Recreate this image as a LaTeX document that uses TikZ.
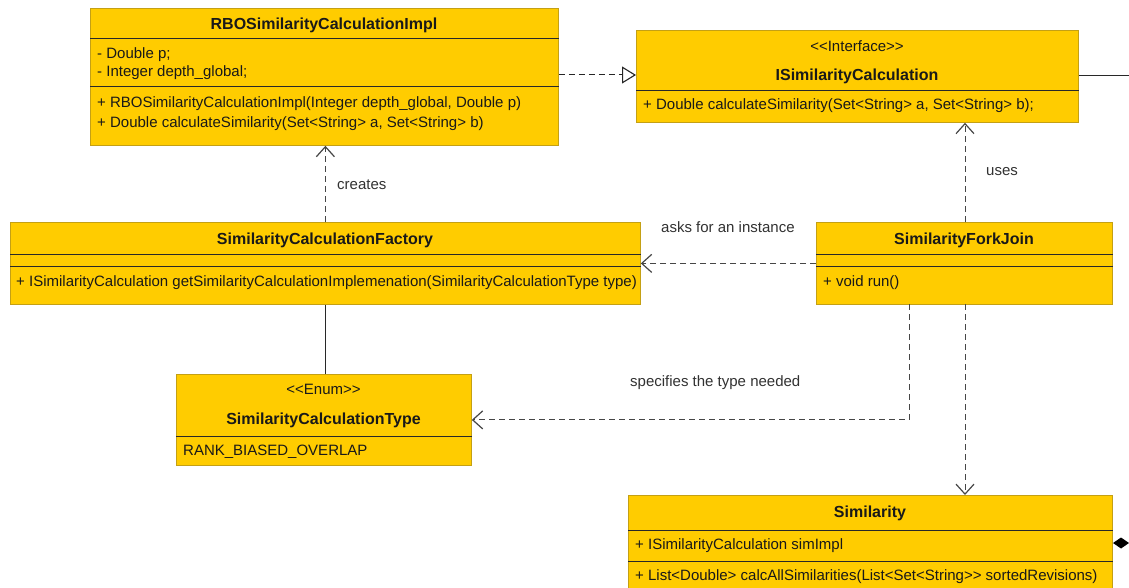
\documentclass[tikz,border=0pt]{standalone}
\usepackage{fontspec}
\setmainfont{Liberation Sans}
\usetikzlibrary{arrows.meta}
\definecolor{umlyellow}{RGB}{255,204,0}
\definecolor{boxedge}{RGB}{196,160,20}
\definecolor{sepcol}{RGB}{40,40,40}
\definecolor{txt}{RGB}{25,25,25}
\definecolor{lblcol}{RGB}{50,50,50}
\definecolor{dashcol}{RGB}{70,70,70}
\newcommand{\memfont}{\fontsize{15}{18}\selectfont}
\newcommand{\titfont}{\fontsize{16}{18}\selectfont\bfseries}
\tikzset{
  umlbox/.style={draw=boxedge, fill=umlyellow, line width=0.8pt, inner sep=0pt, anchor=north west},
  sepline/.style={draw=sepcol, line width=1pt},
  ttl/.style={font=\titfont, text=txt, inner sep=0pt},
  stereo/.style={font=\memfont, text=txt, inner sep=0pt},
  mem/.style={font=\memfont, anchor=west, inner sep=0pt, text=txt},
  lbl/.style={font=\memfont, anchor=west, inner sep=0pt, text=lblcol},
  dep/.style={draw=dashcol, dash pattern=on 6pt off 4pt, line width=1pt,
    -{Straight Barb[length=10pt,width=18pt,line width=1.2pt]}},
  realize/.style={draw=black!85, dash pattern=on 6pt off 4pt, line width=1pt,
    -{Triangle[open,length=14pt,width=17pt,line width=1.1pt]}},
  assoc/.style={draw=sepcol, line width=1pt},
}
\begin{document}
\begin{tikzpicture}[x=1pt,y=-1pt]
\clip (0,0) rectangle (1129,588);
\fill[white] (0,0) rectangle (1129,588);

% RBOSimilarityCalculationImpl
\node[umlbox, minimum width=468pt, minimum height=137pt] (rbo) at (90,8) {};
\node[ttl] (rboT) at (324,25) {RBOSimilarityCalculationImpl};
\draw[sepline] (rbo.west |- 0,39) -- (rbo.east |- 0,39);
\node[mem] (rboA1) at (97,55) {- Double p;};
\node[mem] (rboA2) at (97,73) {- Integer depth\_global;};
\draw[sepline] (rbo.west |- 0,87) -- (rbo.east |- 0,87);
\node[mem] (rboM1) at (97,104) {+ RBOSimilarityCalculationImpl(Integer depth\_global, Double p)};
\node[mem] (rboM2) at (97,124) {+ Double calculateSimilarity(Set<String> a, Set<String> b)};

% ISimilarityCalculation
\node[umlbox, minimum width=442pt, minimum height=92pt] (iface) at (636,30) {};
\node[stereo] (ifaceS) at (857,46) {{<}{<}Interface{>}{>}};
\node[ttl] (ifaceT) at (857,76) {ISimilarityCalculation};
\draw[sepline] (iface.west |- 0,91) -- (iface.east |- 0,91);
\node[mem] (ifaceM) at (643,106) {+ Double calculateSimilarity(Set<String> a, Set<String> b);};

% SimilarityCalculationFactory
\node[umlbox, minimum width=630pt, minimum height=82pt] (fact) at (10,222) {};
\node[ttl] (factT) at (325,240) {SimilarityCalculationFactory};
\draw[sepline] (fact.west |- 0,254) -- (fact.east |- 0,254);
\draw[sepline] (fact.west |- 0,266) -- (fact.east |- 0,266);
\node[mem] (factM) at (16,283) {+ ISimilarityCalculation getSimilarityCalculationImplemenation(SimilarityCalculationType type)};

% SimilarityForkJoin
\node[umlbox, minimum width=296pt, minimum height=82pt] (fork) at (816,222) {};
\node[ttl] (forkT) at (964,240) {SimilarityForkJoin};
\draw[sepline] (fork.west |- 0,254) -- (fork.east |- 0,254);
\draw[sepline] (fork.west |- 0,266) -- (fork.east |- 0,266);
\node[mem] (forkM) at (823,283) {+ void run()};

% SimilarityCalculationType
\node[umlbox, minimum width=295pt, minimum height=91pt] (enum) at (176,374) {};
\node[stereo] (enumS) at (323.5,389) {{<}{<}Enum{>}{>}};
\node[ttl] (enumT) at (323.5,420) {SimilarityCalculationType};
\draw[sepline] (enum.west |- 0,436) -- (enum.east |- 0,436);
\node[mem] (enumV) at (183,452) {RANK\_BIASED\_OVERLAP};

% Similarity
\node[umlbox, minimum width=484pt, minimum height=100pt] (sim) at (628,495) {};
\node[ttl] (simT) at (870,513) {Similarity};
\draw[sepline] (sim.west |- 0,530) -- (sim.east |- 0,530);
\node[mem] (simA) at (635,546) {+ ISimilarityCalculation simImpl};
\draw[sepline] (sim.west |- 0,561) -- (sim.east |- 0,561);
\node[mem] (simM) at (635,577) {+ List<Double> calcAllSimilarities(List<Set<String>{}> sortedRevisions)};

% connectors
\draw[realize] (rbo.east |- 0,75) -- (iface.west |- 0,75);
\coordinate (ifaceOut) at (1129,76);
\draw[assoc] (iface.east |- ifaceOut) -- (ifaceOut);

\draw[dep] (fact.north) -- (fact.north |- rbo.south);
\node[lbl] (lblCreates) at (337,185) {creates};

\coordinate (forkUp) at (965,222);
\draw[dep] (forkUp) -- (forkUp |- iface.south);
\node[lbl] (lblUses) at (986,172) {uses};

\draw[dep] (fork.west) -- (fact.east);
\node[lbl] (lblAsks) at (661,227) {asks for an instance};

\draw[assoc] (fact.south) -- (fact.south |- enum.north);

\coordinate (forkDownA) at (909,304);
\draw[dep] (forkDownA) |- (enum.east);
\node[lbl] (lblSpec) at (630,383) {specifies the type needed};

\coordinate (forkDownB) at (965,304);
\draw[dep] (forkDownB) -- (forkDownB |- sim.north);

% composition diamond
\coordinate (dia) at (1113,543);
\fill[black] (dia) -- ++(8,-5.5) -- ++(8,5.5) -- ++(-8,5.5) -- cycle;
\coordinate (diaOut) at (1140,543);
\draw[assoc] (dia) ++(16,0) -- (diaOut);
\end{tikzpicture}
\end{document}
